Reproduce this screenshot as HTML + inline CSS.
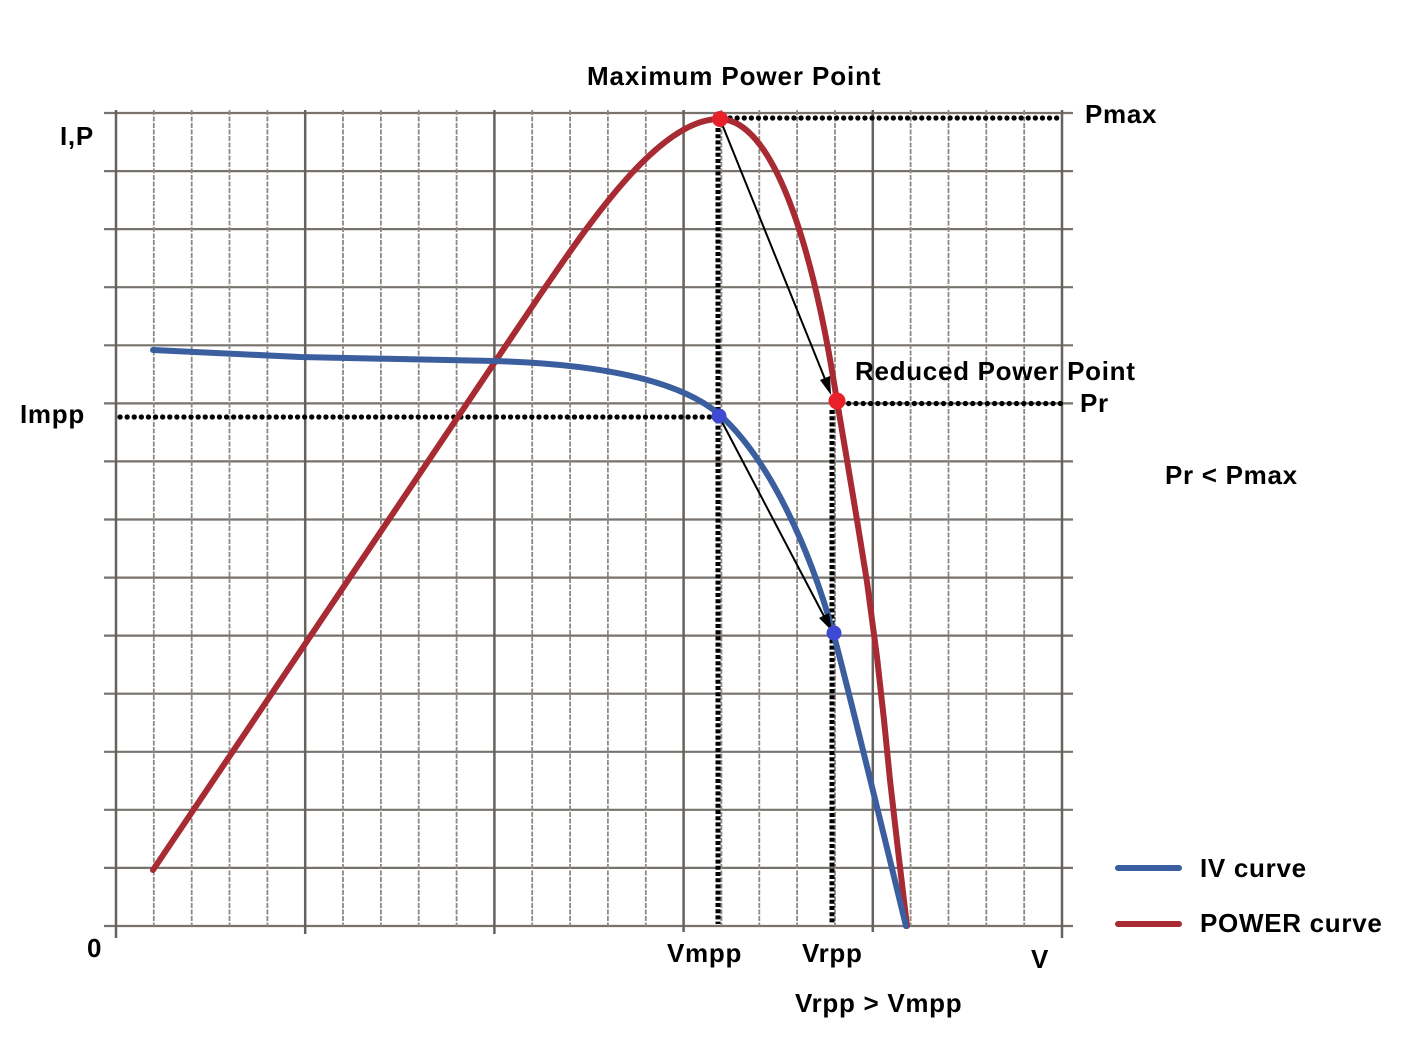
<!DOCTYPE html>
<html><head><meta charset="utf-8"><style>
html,body{margin:0;padding:0;background:#fff;}
svg{display:block;}
text{font-family:"Liberation Sans",Arial,sans-serif;font-weight:bold;font-size:26px;fill:#000;letter-spacing:0.7px;}
</style></head><body>
<svg width="1414" height="1052" viewBox="0 0 1414 1052" xmlns="http://www.w3.org/2000/svg">
<rect width="1414" height="1052" fill="#fff"/>
<!-- horizontal grid -->
<g stroke="#77726d" stroke-width="2.2">
<line x1="104" y1="113" x2="1073" y2="113"/>
<line x1="104" y1="171.1" x2="1073" y2="171.1"/>
<line x1="104" y1="229.1" x2="1073" y2="229.1"/>
<line x1="104" y1="287.2" x2="1073" y2="287.2"/>
<line x1="104" y1="345.3" x2="1073" y2="345.3"/>
<line x1="104" y1="403.4" x2="1073" y2="403.4"/>
<line x1="104" y1="461.4" x2="1073" y2="461.4"/>
<line x1="104" y1="519.5" x2="1073" y2="519.5"/>
<line x1="104" y1="577.6" x2="1073" y2="577.6"/>
<line x1="104" y1="635.6" x2="1073" y2="635.6"/>
<line x1="104" y1="693.7" x2="1073" y2="693.7"/>
<line x1="104" y1="751.8" x2="1073" y2="751.8"/>
<line x1="104" y1="809.8" x2="1073" y2="809.8"/>
<line x1="104" y1="867.9" x2="1073" y2="867.9"/>
<line x1="104" y1="926" x2="1073" y2="926"/>
</g>
<!-- vertical minor grid -->
<g stroke="#8d8984" stroke-width="1.8" stroke-dasharray="5 1.5">
<line x1="153.8" y1="110" x2="153.8" y2="926"/>
<line x1="191.7" y1="110" x2="191.7" y2="926"/>
<line x1="229.5" y1="110" x2="229.5" y2="926"/>
<line x1="267.4" y1="110" x2="267.4" y2="926"/>
<line x1="343.0" y1="110" x2="343.0" y2="926"/>
<line x1="380.9" y1="110" x2="380.9" y2="926"/>
<line x1="418.7" y1="110" x2="418.7" y2="926"/>
<line x1="456.6" y1="110" x2="456.6" y2="926"/>
<line x1="532.2" y1="110" x2="532.2" y2="926"/>
<line x1="570.1" y1="110" x2="570.1" y2="926"/>
<line x1="607.9" y1="110" x2="607.9" y2="926"/>
<line x1="645.8" y1="110" x2="645.8" y2="926"/>
<line x1="721.4" y1="110" x2="721.4" y2="926"/>
<line x1="759.3" y1="110" x2="759.3" y2="926"/>
<line x1="797.1" y1="110" x2="797.1" y2="926"/>
<line x1="835.0" y1="110" x2="835.0" y2="926"/>
<line x1="910.6" y1="110" x2="910.6" y2="926"/>
<line x1="948.5" y1="110" x2="948.5" y2="926"/>
<line x1="986.3" y1="110" x2="986.3" y2="926"/>
<line x1="1024.2" y1="110" x2="1024.2" y2="926"/>
</g>
<!-- vertical major grid -->
<g stroke="#66625e" stroke-width="2.5">
<line x1="116" y1="110" x2="116" y2="938"/>
<line x1="305.2" y1="110" x2="305.2" y2="934"/>
<line x1="494.4" y1="110" x2="494.4" y2="934"/>
<line x1="683.6" y1="110" x2="683.6" y2="932"/>
<line x1="872.8" y1="110" x2="872.8" y2="932"/>
<line x1="1062" y1="110" x2="1062" y2="938"/>
</g>

<!-- dotted guide lines -->
<g stroke="#000" stroke-width="5.2" stroke-linecap="round" stroke-dasharray="0.1 7" fill="none">
<line x1="730" y1="118" x2="1062" y2="118"/>
<line x1="834" y1="403.5" x2="1062" y2="403.5" stroke-dasharray="0.1 7.2"/>
<line x1="120" y1="417" x2="710" y2="417"/>
</g>
<g stroke="#000" stroke-width="5" stroke-linecap="butt" stroke-dasharray="4 2.2" fill="none">
<line x1="718" y1="128" x2="718" y2="924"/>
<line x1="832" y1="410" x2="832" y2="924"/>
</g>

<!-- POWER curve -->
<path d="M153,870 L540,295 C590,222 660,118 720,119 C770,120 810,230 836,395 L847,460 L857,520 L867,582 L877,657 L884,720 L890,780 L898,850 L907,926"
 fill="none" stroke="#a82a33" stroke-width="6" stroke-linejoin="round" stroke-linecap="round"/>
<!-- IV curve -->
<path d="M153,350 L300,357 L494,361 C600,364 680,380 720,415 C770,460 810,550 833,632 C850,695 885,840 906,926"
 fill="none" stroke="#3b5e9e" stroke-width="6" stroke-linejoin="round" stroke-linecap="round"/>

<!-- arrows -->
<g stroke="#000" stroke-width="2" fill="#000">
<line x1="722" y1="124" x2="827" y2="384"/>
<polygon points="831,395 820,380 830,376" stroke="none"/>
<line x1="721" y1="420" x2="826" y2="620"/>
<polygon points="832,631 819,618 829,613" stroke="none"/>
</g>

<!-- points -->
<circle cx="720" cy="119" r="8" fill="#e8202a"/>
<circle cx="837" cy="401" r="8.5" fill="#e8202a"/>
<circle cx="719" cy="416" r="7.5" fill="#3f4ad4"/>
<circle cx="834" cy="633" r="7.5" fill="#3f4ad4"/>

<!-- labels -->
<text x="587" y="85" style="letter-spacing:0.9px">Maximum Power Point</text>
<text x="1085" y="123">Pmax</text>
<text x="60" y="145">I,P</text>
<text x="20" y="423">Impp</text>
<text x="855" y="380">Reduced Power Point</text>
<text x="1080" y="412">Pr</text>
<text x="1165" y="484">Pr &lt; Pmax</text>
<text x="87" y="957">0</text>
<text x="667" y="962">Vmpp</text>
<text x="802" y="962">Vrpp</text>
<text x="1031" y="968">V</text>
<text x="795" y="1012">Vrpp &gt; Vmpp</text>

<!-- legend -->
<line x1="1118" y1="868" x2="1179" y2="868" stroke="#3b5e9e" stroke-width="6" stroke-linecap="round"/>
<line x1="1118" y1="924" x2="1179" y2="924" stroke="#a82a33" stroke-width="6" stroke-linecap="round"/>
<text x="1200" y="877">IV curve</text>
<text x="1200" y="932">POWER curve</text>
</svg>
</body></html>
